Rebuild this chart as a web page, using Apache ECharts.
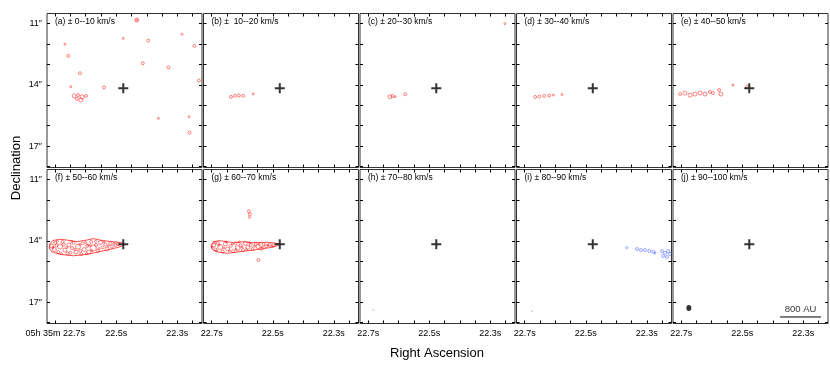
<!DOCTYPE html>
<html>
<head>
<meta charset="utf-8">
<script src="https://cdn.jsdelivr.net/npm/echarts@6/dist/echarts.min.js"></script>
<style>
  html, body { margin: 0; padding: 0; background: #fff; }
  #chart { width: 830px; height: 365px; }
</style>
</head>
<body>
<div id="chart"></div>
<script>
// channel titles
var panelTitles = [
    '(a) \u00b1 0--10 km/s', '(b) \u00b1  10--20 km/s', '(c) \u00b1 20--30 km/s',
    '(d) \u00b1 30--40 km/s', '(e) \u00b1 40--50 km/s', '(f) \u00b1 50--60 km/s',
    '(g) \u00b1 60--70 km/s', '(h) \u00b1 70--80 km/s', '(i) \u00b1 80--90 km/s',
    '(j) \u00b1 90--100 km/s'
];

// map extent (RA seconds after 05h35m, Dec arcsec)
var raRange = [22.219, 22.727];
var decRange = [10.5, 18.05];
var raTicks = [22.25, 22.3, 22.35, 22.4, 22.45, 22.5, 22.55, 22.6, 22.65, 22.7];
var raLabels = [22.3, 22.5, 22.7];
var decTicks = [11, 12, 13, 14, 15, 16, 17, 18];
var decLabels = [11, 14, 17];

// protostar position
var source = [22.477, 14.17];

// [ra, dec, size]
var contoursA = [
    [22.433, 10.82, 4], [22.433, 10.82, 2], [22.477, 11.72, 2], [22.395, 11.83, 3],
    [22.285, 11.52, 2], [22.244, 12.09, 3], [22.668, 12.01, 2], [22.657, 12.58, 3],
    [22.619, 13.43, 3], [22.413, 12.94, 3], [22.329, 13.14, 3], [22.229, 13.79, 3],
    [22.649, 14.09, 2], [22.540, 14.12, 3],
    [22.638, 14.54, 4], [22.625, 14.50, 3], [22.612, 14.59, 4], [22.599, 14.54, 3],
    [22.629, 14.69, 3], [22.616, 14.74, 4],
    [22.362, 15.64, 2], [22.261, 15.56, 2], [22.260, 16.34, 3]
];
var contoursB = [
    [22.637, 14.59, 3], [22.624, 14.54, 3], [22.611, 14.52, 3], [22.597, 14.54, 3],
    [22.564, 14.44, 2]
];
var contoursC = [
    [22.629, 14.58, 4], [22.620, 14.55, 3], [22.612, 14.58, 2], [22.579, 14.46, 3],
    [22.252, 11.0, 2]
];
var contoursD = [
    [22.666, 14.59, 3], [22.652, 14.57, 3], [22.636, 14.54, 3], [22.620, 14.52, 3],
    [22.606, 14.50, 2], [22.578, 14.47, 2]
];
var contoursE = [
    [22.704, 14.45, 3], [22.688, 14.40, 4], [22.671, 14.50, 4], [22.655, 14.45, 4],
    [22.638, 14.40, 4], [22.622, 14.45, 4], [22.606, 14.35, 3], [22.596, 14.40, 3],
    [22.576, 14.25, 3], [22.570, 14.45, 4], [22.531, 14.01, 2], [22.484, 14.10, 3]
];

var jetOutlineF = [
    [22.717, 14.12], [22.707, 13.98], [22.684, 13.92], [22.662, 13.96], [22.630, 14.04],
    [22.597, 13.96], [22.575, 13.89], [22.542, 13.99], [22.510, 14.04], [22.484, 14.08],
    [22.474, 14.18], [22.484, 14.27], [22.498, 14.33], [22.531, 14.45], [22.564, 14.56],
    [22.597, 14.66], [22.641, 14.73], [22.684, 14.66], [22.711, 14.54], [22.720, 14.35],
    [22.717, 14.12]
];
var jetKnotsF = [
    [22.712, 14.25, 4], [22.700, 14.10, 3], [22.703, 14.42, 4], [22.690, 14.55, 3],
    [22.684, 14.28, 5], [22.676, 14.05, 3], [22.668, 14.45, 4], [22.660, 14.62, 3],
    [22.655, 14.20, 4], [22.645, 14.35, 3], [22.640, 14.10, 3], [22.632, 14.55, 4],
    [22.625, 14.28, 5], [22.615, 14.65, 3], [22.610, 14.12, 3], [22.605, 14.42, 4],
    [22.595, 14.25, 3], [22.590, 14.55, 4], [22.582, 14.05, 3], [22.575, 14.35, 6],
    [22.566, 14.20, 3], [22.560, 14.48, 3], [22.552, 14.08, 4], [22.545, 14.32, 3],
    [22.536, 14.18, 3], [22.530, 14.40, 4], [22.520, 14.12, 3], [22.514, 14.28, 3],
    [22.502, 14.20, 3], [22.494, 14.16, 3],
    [22.708, 14.32, 2], [22.696, 14.22, 3], [22.693, 14.02, 2], [22.680, 14.62, 2],
    [22.672, 14.18, 3], [22.662, 14.32, 2], [22.650, 14.58, 3], [22.646, 14.02, 2],
    [22.636, 14.42, 2], [22.620, 14.18, 2], [22.618, 14.48, 3], [22.600, 14.08, 2],
    [22.598, 14.62, 2], [22.585, 14.22, 2], [22.580, 14.48, 2], [22.568, 14.02, 2],
    [22.556, 14.38, 2], [22.540, 14.06, 2], [22.526, 14.24, 2], [22.508, 14.12, 2],
    [22.593, 14.20, 2]
];

var jetOutlineG = [
    [22.702, 14.25], [22.695, 14.04], [22.673, 13.99], [22.629, 14.09], [22.596, 14.04],
    [22.564, 14.09], [22.520, 14.07], [22.487, 14.12], [22.479, 14.17], [22.487, 14.25],
    [22.520, 14.36], [22.564, 14.45], [22.607, 14.53], [22.651, 14.61], [22.684, 14.53],
    [22.699, 14.40], [22.702, 14.25]
];
var jetKnotsG = [
    [22.694, 14.20, 4], [22.688, 14.42, 3], [22.680, 14.10, 3], [22.672, 14.30, 5],
    [22.664, 14.52, 3], [22.655, 14.15, 4], [22.648, 14.40, 4], [22.638, 14.25, 3],
    [22.630, 14.50, 3], [22.622, 14.12, 3], [22.615, 14.35, 5], [22.605, 14.22, 3],
    [22.598, 14.45, 3], [22.590, 14.12, 4], [22.582, 14.32, 4], [22.572, 14.20, 3],
    [22.566, 14.40, 3], [22.556, 14.14, 3], [22.548, 14.28, 4], [22.538, 14.38, 3],
    [22.530, 14.16, 3], [22.522, 14.26, 3], [22.510, 14.18, 3], [22.498, 14.22, 3],
    [22.698, 14.30, 2], [22.690, 14.08, 2], [22.684, 14.48, 2], [22.676, 14.20, 2],
    [22.660, 14.35, 2], [22.652, 14.05, 2], [22.642, 14.48, 2], [22.632, 14.15, 2],
    [22.620, 14.42, 2], [22.610, 14.06, 2], [22.600, 14.30, 2], [22.586, 14.42, 2],
    [22.576, 14.10, 2], [22.560, 14.26, 2], [22.544, 14.16, 2], [22.534, 14.30, 2],
    [22.516, 14.22, 2], [22.502, 14.28, 2]
];
var blobsG = [
    [22.578, 12.55, 3], [22.575, 12.70, 3], [22.576, 12.85, 2], [22.547, 14.94, 3]
];

var contoursH = [[22.684, 17.39, 1]];
var contoursI = [[22.676, 17.44, 1]];
var blueI = [
    [22.366, 14.33, 2], [22.332, 14.40, 3], [22.319, 14.45, 3], [22.306, 14.45, 3],
    [22.292, 14.50, 3], [22.279, 14.54, 3], [22.273, 14.59, 2],
    [22.250, 14.50, 3], [22.240, 14.59, 3], [22.230, 14.50, 3], [22.247, 14.74, 3],
    [22.234, 14.79, 3], [22.224, 14.64, 3]
];

var beam = [[22.675, 17.29]];
var scaleBar = [[22.376, 17.73], [22.242, 17.73]];
var scaleLabel = [[22.309, 17.35]];

var FONT = '"Liberation Sans", Arial, sans-serif';
var colLeft = [47, 203.5, 360, 516.5, 673];
var rowTop = [13.5, 169.5];
var W = 155, H = 154;

var chart = echarts.init(document.getElementById('chart'));

var grids = [], xAxes = [], yAxes = [], titles = [], series = [];

function near(a, b) { return Math.abs(a - b) < 1e-6; }

for (var i = 0; i < 10; i++) {
    var r = Math.floor(i / 5), c = i % 5;
    grids.push({
        left: colLeft[c], top: rowTop[r], width: W, height: H,
        show: true, borderColor: '#333', borderWidth: 1, backgroundColor: '#fff'
    });
    var xBase = {
        type: 'value', gridIndex: i, min: raRange[0], max: raRange[1], inverse: true,
        splitLine: { show: false }, axisLine: { show: false },
        axisTick: { show: true, inside: true, length: 3, customValues: raTicks, lineStyle: { color: '#000', width: 1 } }
    };
    xAxes.push(Object.assign({}, xBase, {
        position: 'bottom',
        axisLabel: {
            show: r === 1, customValues: raLabels, margin: 6, fontSize: 9, color: '#000', fontFamily: FONT,
            formatter: (function (col) {
                return function (v) {
                    if (col === 0 && near(v, 22.7)) return '05h 35m 22.7s';
                    return v.toFixed(1) + 's';
                };
            })(c)
        }
    }));
    xAxes.push(Object.assign({}, xBase, { position: 'top', axisLabel: { show: false } }));
    var yBase = {
        type: 'value', gridIndex: i, min: decRange[0], max: decRange[1], inverse: true,
        splitLine: { show: false }, axisLine: { show: false },
        axisTick: { show: true, inside: true, length: 3, customValues: decTicks, lineStyle: { color: '#000', width: 1 } }
    };
    yAxes.push(Object.assign({}, yBase, {
        position: 'left',
        axisLabel: {
            show: c === 0, customValues: decLabels, margin: 5, fontSize: 9, color: '#000', fontFamily: FONT,
            formatter: function (v) { return v + '\u2033'; }
        }
    }));
    yAxes.push(Object.assign({}, yBase, { position: 'right', axisLabel: { show: false } }));

    titles.push({
        text: panelTitles[i], left: colLeft[c] + 8, top: rowTop[r] + 4, padding: 0,
        textStyle: { fontSize: 8.5, fontWeight: 'normal', color: '#000', fontFamily: FONT }
    });
}

function rings(idx, data, color) {
    return {
        type: 'scatter', xAxisIndex: 2 * idx, yAxisIndex: 2 * idx, silent: true, z: 3,
        data: data, symbol: 'circle',
        symbolSize: function (v) { return v[2] || 3; },
        itemStyle: { color: 'rgba(0,0,0,0)', borderColor: color, borderWidth: 0.6 }
    };
}
function outline(idx, data) {
    return {
        type: 'line', xAxisIndex: 2 * idx, yAxisIndex: 2 * idx, silent: true, z: 3,
        data: data, showSymbol: false, symbol: 'none',
        lineStyle: { color: '#ff0000', width: 0.7 }
    };
}

series.push(rings(0, contoursA, '#ff0000'));
series.push(rings(1, contoursB, '#ff0000'));
series.push(rings(2, contoursC, '#ff0000'));
series.push(rings(3, contoursD, '#ff0000'));
series.push(rings(4, contoursE, '#ff0000'));
series.push(outline(5, jetOutlineF));
series.push(rings(5, jetKnotsF, '#ff0000'));
series.push(outline(6, jetOutlineG));
series.push(rings(6, jetKnotsG, '#ff0000'));
series.push(rings(6, blobsG, '#ff0000'));
series.push(rings(7, contoursH, '#999'));
series.push(rings(8, contoursI, '#999'));
series.push(rings(8, blueI, '#2a4bff'));

// source cross on every panel
for (var k = 0; k < 10; k++) {
    series.push({
        type: 'scatter', xAxisIndex: 2 * k, yAxisIndex: 2 * k, silent: true, z: 5,
        data: [source], symbol: 'path://M4,0H6V4H10V6H6V10H4V6H0V4H4Z', symbolSize: 10,
        itemStyle: { color: '#000' }
    });
}

// beam, scale bar
series.push({
    type: 'scatter', xAxisIndex: 18, yAxisIndex: 18, silent: true,
    data: beam, symbol: 'circle', symbolSize: [5, 6], itemStyle: { color: '#000' }
});
series.push({
    type: 'line', xAxisIndex: 18, yAxisIndex: 18, silent: true,
    data: scaleBar, symbol: 'none', lineStyle: { color: '#000', width: 1 }
});
series.push({
    type: 'scatter', xAxisIndex: 18, yAxisIndex: 18, silent: true,
    data: scaleLabel, symbolSize: 0,
    label: { show: true, position: 'inside', formatter: '800 AU', fontSize: 9.5, color: '#000', fontFamily: FONT }
});

chart.setOption({
    animation: false,
    backgroundColor: '#fff',
    title: titles,
    grid: grids,
    xAxis: xAxes,
    yAxis: yAxes,
    series: series,
    graphic: [
        { type: 'text', x: 16, y: 168, rotation: Math.PI / 2,
          style: { text: 'Declination', fontSize: 13, fill: '#000', fontFamily: FONT,
                   align: 'center', verticalAlign: 'middle' } },
        { type: 'text', x: 437, y: 353,
          style: { text: 'Right Ascension', fontSize: 13, fill: '#000', fontFamily: FONT,
                   align: 'center', verticalAlign: 'middle' } }
    ]
});
</script>
</body>
</html>
